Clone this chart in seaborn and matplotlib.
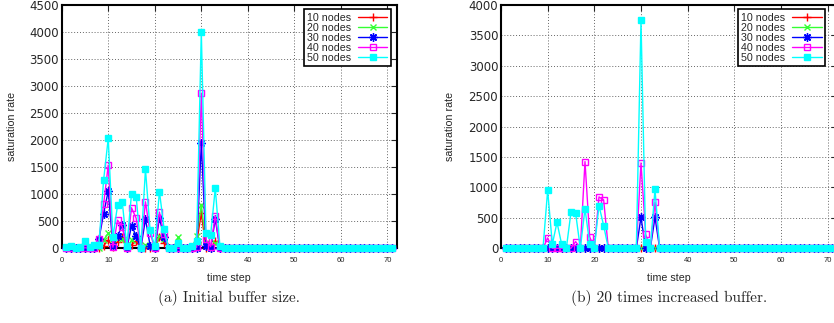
import matplotlib
matplotlib.use('Agg')
import matplotlib.pyplot as plt
import seaborn as sns
import pandas as pd

# time steps 1..34; after step 34 every series sits at 0
steps_head = list(range(1, 35))
tail_steps = list(range(35, 72))
tail_zeros = [0] * len(tail_steps)

series_names = ['10 nodes', '20 nodes', '30 nodes', '40 nodes', '50 nodes']

# (a) initial buffer size
a_10 = [0, 0, 0, 0, 0, 0, 0, 0, 50, 150, 30, 120, 200, 0, 70, 130, 0, 0, 0, 0,
        200, 100, 0, 0, 0, 0, 0, 0, 100, 650, 0, 0, 140, 0]
a_20 = [0, 0, 0, 0, 0, 0, 0, 0, 150, 280, 100, 200, 170, 0, 150, 250, 0, 70, 50, 0,
        230, 170, 0, 0, 200, 0, 0, 0, 230, 800, 100, 0, 100, 0]
a_30 = [0, 0, 0, 0, 0, 0, 0, 170, 640, 1060, 50, 220, 430, 0, 420, 230, 0, 540, 50, 0,
        560, 200, 0, 0, 0, 0, 0, 0, 0, 1950, 50, 0, 540, 0]
a_40 = [0, 0, 0, 0, 10, 0, 0, 170, 810, 1540, 20, 520, 400, 0, 750, 555, 0, 860, 280, 0,
        670, 260, 0, 0, 0, 0, 0, 0, 20, 2870, 165, 30, 600, 0]
a_50 = [20, 50, 10, 30, 140, 30, 70, 70, 1260, 2035, 200, 795, 865, 40, 1010, 955, 0, 1460, 330, 40,
        1050, 360, 0, 0, 100, 0, 0, 50, 135, 4000, 280, 240, 1110, 40]

# (b) 20 times increased buffer
b_10 = [0] * 34
b_20 = [0] * 34
b_30 = [0, 0, 0, 0, 0, 0, 0, 0, 0, 0, 0, 0, 0, 0, 0, 0, 0, 0, 0, 0,
        0, 0, 0, 0, 0, 0, 0, 0, 0, 510, 0, 0, 510, 0]
b_40 = [0, 0, 0, 0, 0, 0, 0, 0, 0, 170, 0, 0, 0, 0, 0, 110, 0, 1425, 190, 0,
        845, 795, 0, 0, 0, 0, 0, 0, 0, 1403, 230, 0, 756, 0]
b_50 = [0, 0, 0, 0, 0, 0, 0, 0, 0, 953, 65, 427, 65, 0, 592, 575, 0, 652, 77, 0,
        701, 373, 0, 0, 0, 0, 0, 0, 0, 3748, 99, 0, 970, 0]

captions = ['(a) Initial buffer size.', '(b) 20 times increased buffer.']
y_tops = [4500, 4000]

colors = ['#ff0000', '#33ff33', '#0000ff', '#ff00ff', '#00ffff']
markers = ['+', 'x', (8, 2, 0), 's', 's']
marker_face = ['#ff0000', '#33ff33', '#0000ff', 'none', '#00ffff']
marker_size = [6, 5, 6, 5, 5]


def make_frame(cols):
    rows = []
    for name, vals in zip(series_names, cols):
        full = vals + tail_zeros
        for s, v in zip(steps_head + tail_steps, full):
            rows.append({'step': s, 'rate': v, 'series': name})
    return pd.DataFrame(rows)


df_a = make_frame([a_10, a_20, a_30, a_40, a_50])
df_b = make_frame([b_10, b_20, b_30, b_40, b_50])

sns.set_style('white')
plt.rcParams['font.family'] = ['Liberation Sans', 'DejaVu Sans']

fig = plt.figure(figsize=(8.34, 3.23), dpi=100)
ax_a = fig.add_axes([0.074, 0.2313, 0.4017, 0.7533])
ax_b = fig.add_axes([0.6007, 0.2313, 0.4029, 0.7533])

panels = [(ax_a, df_a, y_tops[0], (0.982, 0.982), 229 / 834, -0.133),
          (ax_b, df_b, y_tops[1], (0.964, 0.982), 669 / 834, -0.137)]

for (ax, df, ytop, leg_anchor, cap_x, ylab_x), cap in zip(panels, captions):
    for i, name in enumerate(series_names):
        sub = df[df['series'] == name]
        sns.lineplot(data=sub, x='step', y='rate', ax=ax, color=colors[i],
                     marker=markers[i], markersize=marker_size[i],
                     markerfacecolor=marker_face[i], markeredgecolor=colors[i],
                     markeredgewidth=1.0, linewidth=1.0, label=name,
                     clip_on=False, zorder=3 + i)
    ax.set_xlim(0, 72)
    ax.set_ylim(0, ytop)
    ax.set_xticks(range(0, 71, 10))
    ax.set_yticks(range(0, ytop + 1, 500))
    ax.grid(True, color='#666666', linestyle=(0, (1, 2)), linewidth=0.7)
    ax.tick_params(direction='in', length=4, width=0.8, top=True, right=True)
    ax.tick_params(axis='y', pad=2, labelsize=8.5, labelfontfamily='DejaVu Sans')
    ax.tick_params(axis='x', pad=6, labelsize=5.5)
    for sp in ax.spines.values():
        sp.set_color('black')
        sp.set_linewidth(1.5)
    ax.set_xlabel('time step', fontsize=7.7)
    ax.set_ylabel('saturation rate', fontsize=7.7)
    ax.xaxis.set_label_coords(0.5, -0.1)
    ax.yaxis.set_label_coords(ylab_x, 0.5)
    leg = ax.legend(loc='upper right', bbox_to_anchor=leg_anchor, borderaxespad=0,
                    frameon=True, fancybox=False, edgecolor='black', framealpha=1,
                    markerfirst=False, fontsize=7.7, labelspacing=0.0,
                    handlelength=2.8, handletextpad=0.6, borderpad=0.3)
    leg.get_frame().set_linewidth(1.2)
    leg.set_zorder(20)
    fig.text(cap_x, 1 - 298 / 323, cap, ha='center', va='center',
             family='cmr10', fontsize=11)

fig.savefig('out.png', dpi=100)
plt.close(fig)
